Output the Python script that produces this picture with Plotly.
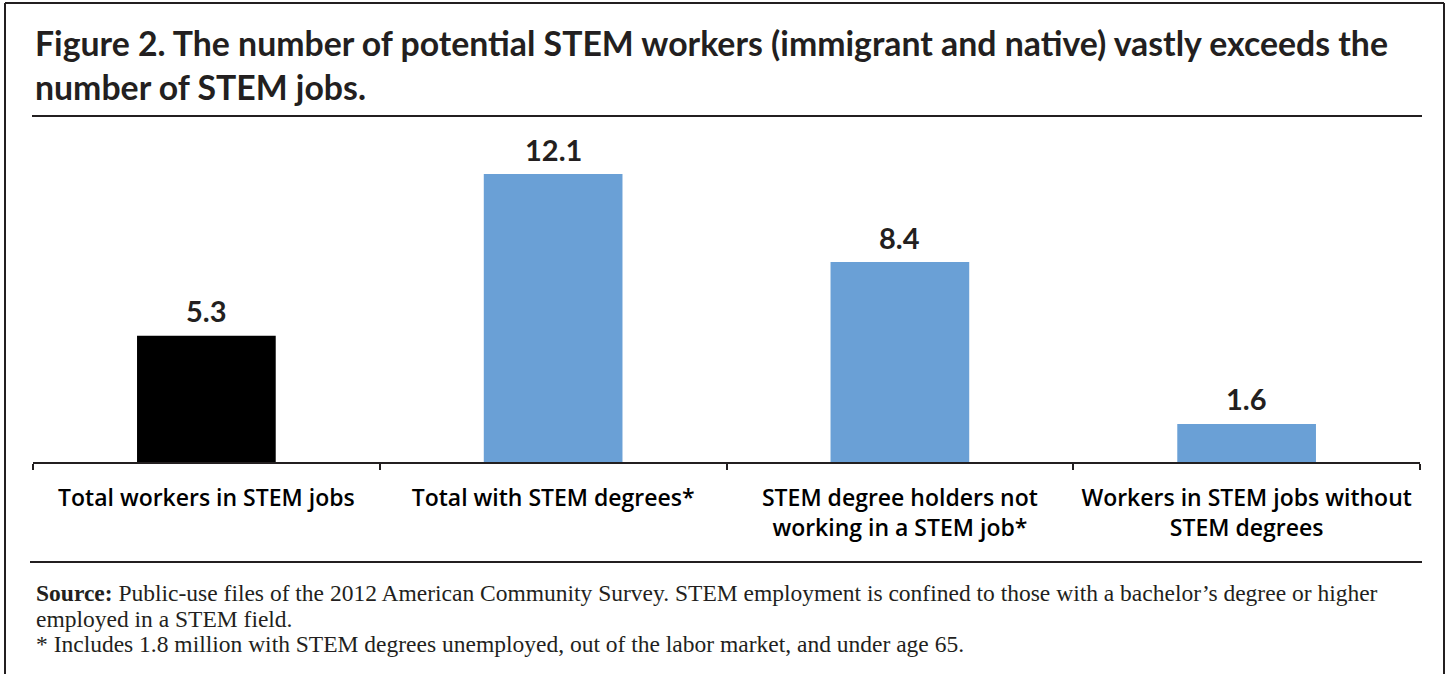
import plotly.graph_objects as go

categories = ["Total workers in STEM jobs", "Total with STEM degrees*",
              "STEM degree holders not<br>working in a STEM job*",
              "Workers in STEM jobs without<br>STEM degrees"]
values = [5.3, 12.1, 8.4, 1.6]
value_labels = ["5.3", "12.1", "8.4", "1.6"]
bar_colors = ["#000000", "#6aa0d6", "#6aa0d6", "#6aa0d6"]

title_text = ("Figure 2. The number of potential STEM workers (immigrant and native) vastly exceeds the<br>"
              "number of STEM jobs.")
source_lines = [
    "<b>Source:</b> Public-use files of the 2012 American Community Survey. STEM employment is confined to those with a bachelor’s degree or higher",
    "employed in a STEM field.",
    "* Includes 1.8 million with STEM degrees unemployed, out of the labor market, and under age 65.",
]

W, H = 1449, 674
ML, MR, MT, MB = 33, 29, 130, 212
PW = W - ML - MR
PH = H - MT - MB

def px_x(px):
    return (px - ML) / PW

def px_y(py):
    return (H - MB - py) / PH

fig = go.Figure()
fig.add_trace(go.Bar(
    x=categories, y=values, marker_color=bar_colors, marker_line_width=0,
    width=0.4, hoverinfo="skip",
))

shapes = []
line_style = dict(color="#231f20", width=2)
shapes.append(dict(type="line", xref="paper", yref="paper", x0=px_x(5), x1=px_x(1444), y0=px_y(3), y1=px_y(3), line=line_style))
shapes.append(dict(type="line", xref="paper", yref="paper", x0=px_x(5), x1=px_x(5), y0=px_y(3), y1=px_y(680), line=line_style))
shapes.append(dict(type="line", xref="paper", yref="paper", x0=px_x(1444), x1=px_x(1444), y0=px_y(3), y1=px_y(680), line=line_style))
shapes.append(dict(type="line", xref="paper", yref="paper", x0=px_x(32), x1=px_x(1422), y0=px_y(116), y1=px_y(116), line=line_style))
shapes.append(dict(type="line", xref="paper", yref="paper", x0=px_x(30), x1=px_x(1422), y0=px_y(562), y1=px_y(562), line=line_style))

annotations = [dict(
    text=title_text, xref="paper", yref="paper", x=px_x(33), y=px_y(21),
    xanchor="left", yanchor="top", align="left", showarrow=False,
    font=dict(family="Lato", size=33.8, color="#231f20", weight="bold"),
)]
for cat, val, lab in zip(categories, values, value_labels):
    annotations.append(dict(
        text=lab, x=cat, y=val, xref="x", yref="y", showarrow=False,
        xanchor="center", yanchor="middle", yshift=25,
        font=dict(family="Lato", size=29, color="#231f20", weight="bold"),
    ))
for i, line in enumerate(source_lines):
    annotations.append(dict(
        text=line, xref="paper", yref="paper", x=px_x(34), y=px_y(593 + 25.5 * i),
        xanchor="left", yanchor="middle", align="left", showarrow=False,
        font=dict(family="Liberation Serif", size=23.5, color="#231f20"),
    ))

fig.update_layout(
    width=W, height=H, margin=dict(l=ML, r=MR, t=MT, b=MB),
    paper_bgcolor="white", plot_bgcolor="white", showlegend=False,
    shapes=shapes, annotations=annotations,
    bargap=0.6,
)
fig.update_xaxes(
    showline=True, linecolor="#231f20", linewidth=2, ticks="outside",
    tickson="boundaries", ticklen=6, tickwidth=2, tickcolor="#231f20",
    showgrid=False, ticklabelstandoff=14,
    tickfont=dict(family="Open Sans", size=23, color="#000000", weight=600),
)
fig.update_yaxes(range=[0, 13.95], visible=False, showgrid=False)

fig.write_html("out.html", config={"displayModeBar": False},
               post_script="document.body.style.margin='0';")
